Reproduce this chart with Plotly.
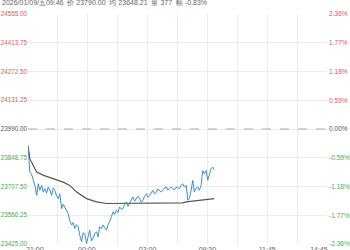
import plotly.graph_objects as go

prev_close = 23990.0
y_ticks = [24555.00, 24413.75, 24272.50, 24131.25, 23990.00, 23848.75, 23707.50, 23566.25, 23425.00]
pct_labels = ["2.36%", "1.77%", "1.18%", "0.59%", "0.00%", "-0.59%", "-1.18%", "-1.77%", "-2.36%"]

x_tick_vals = [22, 189, 384, 576, 768, 934]
x_tick_text = ["21:00", "00:00", "03:00", "09:30", "11:45", "14:45"]
grid_x = [0, 96, 192, 288, 384, 480, 576, 672, 768, 864, 960]

price_t = [0, 6, 11, 17, 22, 28, 33, 38, 44, 49, 54, 60, 65, 70, 76, 81, 86, 92, 97, 102, 108, 113, 118,
           124, 129, 134, 140, 145, 150, 156, 161, 166, 172, 177, 182, 188, 193, 198, 204, 209, 214,
           220, 225, 230, 236, 241, 246, 252, 257, 262, 268, 273, 278, 284, 289, 294, 300, 305, 310,
           316, 321, 326, 332, 337, 342, 348, 353, 358, 364, 369, 374, 380, 385, 390, 396, 401, 406,
           412, 417, 422, 428, 433, 438, 444, 449, 454, 460, 465, 470, 476, 481, 486, 492, 497, 502,
           508, 513, 518, 524, 529, 534, 540, 545, 550, 556, 561, 566, 572, 577, 582, 588, 593, 598]
price = [23909, 23778, 23770, 23740, 23713, 23664, 23721, 23689, 23713, 23680, 23697, 23675, 23705, 23690,
         23664, 23700, 23689, 23660, 23648, 23672, 23599, 23620, 23607, 23590, 23575, 23540, 23518, 23530,
         23501, 23520, 23510, 23470, 23436, 23480, 23477, 23428, 23470, 23493, 23440, 23453, 23475,
         23485, 23460, 23510, 23500, 23518, 23505, 23493, 23520, 23534, 23560, 23583, 23570, 23591, 23580,
         23607, 23595, 23599, 23620, 23632, 23610, 23624, 23640, 23656, 23635, 23648, 23660, 23648, 23630,
         23640, 23660, 23672, 23655, 23664, 23680, 23689, 23670, 23680, 23695, 23689, 23680, 23689, 23700,
         23705, 23690, 23697, 23705, 23697, 23690, 23705, 23700, 23697, 23715, 23721, 23705, 23713, 23640,
         23648, 23689, 23738, 23680, 23700, 23705, 23689, 23713, 23786, 23770, 23786, 23738, 23762, 23795,
         23803, 23790]

avg_t = [0, 6, 17, 28, 50, 81, 113, 134, 156, 188, 220, 252, 294, 348, 401, 454, 497, 508, 550, 598]
avg = [23909, 23843, 23811, 23778, 23762, 23746, 23729, 23713, 23680, 23648, 23632, 23624, 23624, 23624,
       23624, 23625, 23627, 23632, 23640, 23648]

title_text = "2026/01/09/五09:46  价 23790.00  均 23648.21  量 377  幅 -0.83%"

RED = "#e05a5a"
GREEN = "#4cae4c"
GRAY = "#555555"

def colored(v, txt):
    c = RED if v > prev_close else (GREEN if v < prev_close else GRAY)
    return f'<span style="color:{c}">{txt}</span>'

left_text = [colored(v, f"{v:.2f}") for v in y_ticks]
right_text = [colored(v, p) for v, p in zip(y_ticks, pct_labels)]

fig = go.Figure()
fig.add_trace(go.Scatter(x=avg_t, y=avg, mode="lines", line=dict(color="#555555", width=1.2),
                         hoverinfo="skip", showlegend=False))
fig.add_trace(go.Scatter(x=price_t, y=price, mode="lines", line=dict(color="#3f8fc5", width=1),
                         hoverinfo="skip", showlegend=False))
# invisible trace to activate right axis
fig.add_trace(go.Scatter(x=[0], y=[prev_close], yaxis="y2", mode="markers",
                         marker=dict(opacity=0), hoverinfo="skip", showlegend=False))

yr = [min(y_ticks), max(y_ticks)]
fig.add_shape(type="line", xref="paper", yref="y", x0=0, x1=1, y0=prev_close, y1=prev_close,
              line=dict(color="#aaaaaa", width=1, dash="dash"))

fig.update_layout(
    width=350, height=250,
    margin=dict(l=28, r=23, t=14, b=6, autoexpand=False),
    paper_bgcolor="white", plot_bgcolor="white",
    font=dict(family="Liberation Sans, Arial", size=7, color="#666"),
    xaxis=dict(range=[0, 960], tickvals=x_tick_vals, ticktext=x_tick_text, showgrid=False,
               zeroline=False, showline=False, ticks="", automargin=False,
               minor=dict(tickvals=grid_x, showgrid=True, gridcolor="#ececec", gridwidth=1)),
    yaxis=dict(range=yr, tickvals=y_ticks, ticktext=left_text, showgrid=True, gridcolor="#ececec",
               zeroline=False, showline=False, ticks="", ticklabelstandoff=0, automargin=False,
               tickfont=dict(size=6.3)),
    yaxis2=dict(range=yr, tickvals=y_ticks, ticktext=right_text, overlaying="y", side="right",
                showgrid=False, zeroline=False, showline=False, ticks="", ticklabelstandoff=1,
                automargin=False, tickfont=dict(size=6.6)),
    annotations=[dict(text=title_text, xref="paper", yref="paper", x=0, y=1, xanchor="left",
                      yanchor="bottom", xshift=-28, yshift=6, showarrow=False,
                      font=dict(size=7, color="#666"))],
)

fig.write_html("out.html")
